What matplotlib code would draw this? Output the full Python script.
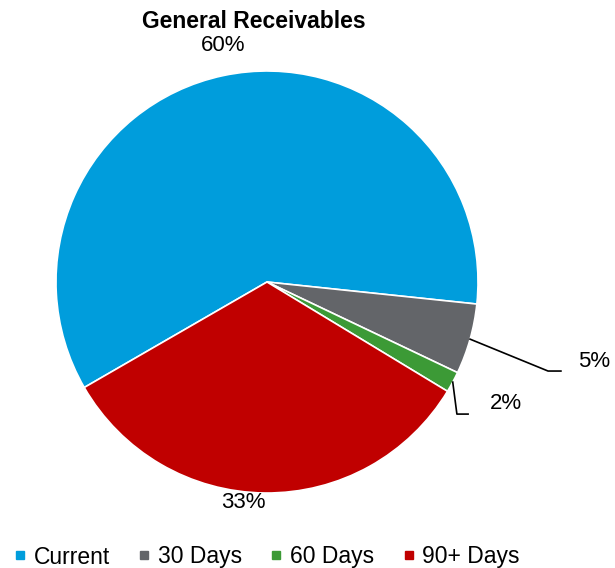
import numpy as np
import matplotlib.pyplot as plt
from matplotlib.lines import Line2D

plt.rcParams['font.family'] = ['Liberation Sans', 'DejaVu Sans']

categories = ['Current', '30 Days', '60 Days', '90+ Days']
values = [60, 5.4, 1.6, 33]
colors = ['#009DDC', '#636569', '#3C9A36', '#C00000']

W, H = 615, 568
cx, cy, r = 267, 282, 211  # pie centre/radius in pixels

fig = plt.figure(figsize=(W / 100, H / 100), dpi=100)
ax = fig.add_axes([(cx - r) / W, (H - cy - r) / H, 2 * r / W, 2 * r / H])

wedges, _ = ax.pie(values, colors=colors, startangle=210, counterclock=False,
                   radius=1, wedgeprops=dict(edgecolor='white', linewidth=1.2))
ax.set_xlim(-1, 1)
ax.set_ylim(-1, 1)
ax.set_aspect('equal')
ax.axis('off')

labels = [f'{round(v)}%' for v in values]

# layout for each label: (text x, text y, ha, va, elbow or None) in pie radius units
layout = [
    (-0.21, 1.12, 'center', 'center', None),
    (1.474, -0.379, 'left', 'center', (1.332, -0.422, 1.393)),
    (1.057, -0.578, 'left', 'center', (0.900, -0.626, 0.953)),
    (-0.114, -1.043, 'center', 'center', None),
]

for w, lab, (tx, ty, ha, va, elbow) in zip(wedges, labels, layout):
    mid = np.deg2rad((w.theta1 + w.theta2) / 2)
    ex, ey = np.cos(mid), np.sin(mid)
    if elbow is not None:
        bx, by, endx = elbow
        ax.plot([ex, bx, endx], [ey, by, by], color='black', lw=1.2, clip_on=False)
    ax.text(tx, ty, lab, ha=ha, va=va, fontsize=16, clip_on=False)

fig.text(254 / W, 1 - 22 / H, 'General Receivables', ha='center', va='center',
         fontsize=16.5, fontweight='bold')

handles = [Line2D([], [], marker='s', linestyle='none', markersize=6,
                  markerfacecolor=c, markeredgecolor=c) for c in colors]
fig.legend(handles, categories, loc='center', bbox_to_anchor=(267 / W, 1 - 557 / H),
           ncol=4, frameon=False, fontsize=16.5, handlelength=0.5, handletextpad=0.35,
           columnspacing=1.25, borderaxespad=0)

fig.savefig('out.png', dpi=100)
